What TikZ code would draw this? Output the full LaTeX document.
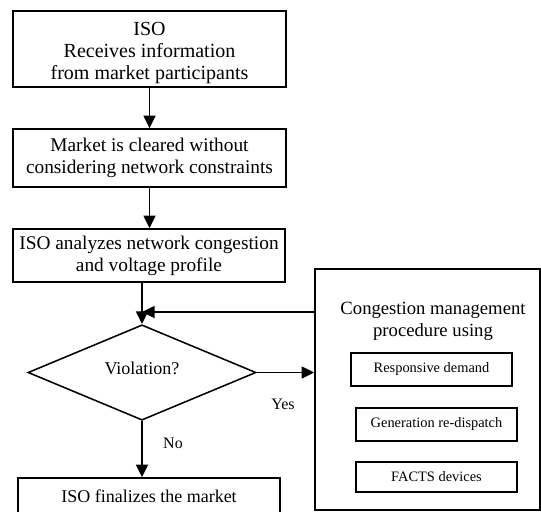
\documentclass[tikz,border=0pt]{standalone}
\usepackage{fontspec}
\setmainfont{Liberation Serif}
\usetikzlibrary{shapes.geometric, arrows.meta, positioning}

\begin{document}
\begin{tikzpicture}[x=0.75pt, y=-0.75pt, line width=1.15pt,
	font=\fontsize{14.5}{16.5}\selectfont,
	flowbox/.style={draw, rectangle, align=center, inner sep=0pt, minimum width=204.75pt},
	subbox/.style={draw, rectangle, inner sep=0pt, minimum width=120.75pt, line width=1pt, font=\fontsize{10.8}{12}\selectfont},
	flowarrow/.style={-{Triangle[length=9.5pt, width=9pt]}}]
	\clip (0,0) rectangle (541,511);
	% main flow
	\node[flowbox, minimum height=57pt] (recv) at (149.5,49) {};
	\node[align=center, font=\fontsize{15}{16.8}\selectfont] (recvtext) at (149.5,53) {ISO\\Receives information\\from market participants};
	\node[flowbox, minimum height=43.5pt] (clear) at (149.5,158) {Market is cleared without\\considering network constraints};
	\node[flowbox, minimum width=204pt, minimum height=39.75pt] (analyze) at (149,255.5) {ISO analyzes network congestion\\and voltage profile};
	\node[draw, diamond, inner sep=0pt, minimum width=171pt, minimum height=65.25pt, text depth=6pt, font=\fontsize{13.5}{15}\selectfont] (viol) at (142,372.5) {Violation?};
	\node[flowbox, minimum width=196.5pt, minimum height=31.5pt] (final) at (149,499) {};
	\node[font=\fontsize{13.5}{15}\selectfont] (finaltext) at (149,496) {ISO finalizes the market};
	\coordinate (merge) at (142,312);

	% congestion management
	\node[draw, rectangle, minimum width=168.75pt, minimum height=180.75pt] (cong) at (427.5,389.5) {};
	\node[align=center, font=\fontsize{14}{16.5}\selectfont] (congtitle) at (433,321) {Congestion management\\procedure using};
	\foreach \nm/\cx/\cy/\bh/\lbl in {resp/431.5/369.5/24.75pt/Responsive demand, gen/436.5/424.5/24.75pt/Generation re-dispatch, facts/436.5/477/22.5pt/FACTS devices}
		\node[subbox, minimum height=\bh] (\nm) at (\cx,\cy) {\lbl};

	% connectors
	\draw[flowarrow] (recv) -- (clear);
	\draw[flowarrow] (clear) -- (clear.south |- analyze.north);
	\draw[flowarrow] (analyze.south -| viol.north) -- (viol.north);
	\draw[flowarrow] (cong.west |- merge) -- (merge);
	\draw[flowarrow] (viol.east) -- (viol.east -| cong.west);
	\draw[flowarrow] (viol.south) -- (viol.south |- final.north);
	\node[font=\fontsize{12}{14}\selectfont] (yes) at (283,404) {Yes};
	\node[font=\fontsize{12}{14}\selectfont] (no) at (173,443) {No};
\end{tikzpicture}
\end{document}
